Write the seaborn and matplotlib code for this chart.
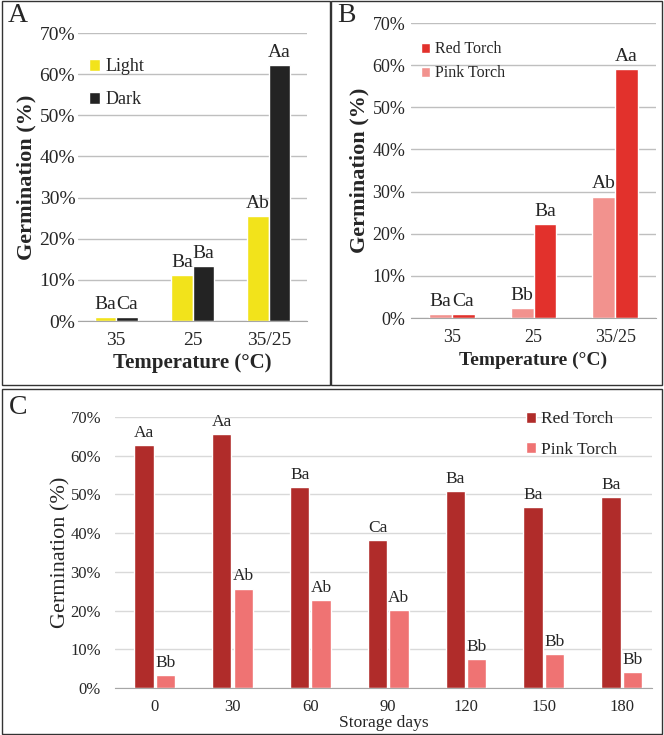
import matplotlib
matplotlib.use("Agg")
import matplotlib.pyplot as plt
from matplotlib.patches import Rectangle
from matplotlib.ticker import PercentFormatter, FixedLocator
import seaborn as sns
import pandas as pd

# Panel A: light vs dark at temperature
temps = ["35", "25", "35/25"]
light = [1.0, 11.2, 25.5]
dark = [1.0, 13.4, 62.2]
light_letters = ["Ba", "Ba", "Ab"]
dark_letters = ["Ca", "Ba", "Aa"]

# Panel B: cultivars at temperature
pink_temp = [1.0, 2.3, 28.8]
red_temp = [1.0, 22.3, 59.0]
pink_temp_letters = ["Ba", "Bb", "Ab"]
red_temp_letters = ["Ca", "Ba", "Aa"]

# Panel C: storage days
days = ["0", "30", "60", "90", "120", "150", "180"]
red_days = [62.8, 65.5, 52.0, 38.1, 50.8, 46.7, 49.4]
pink_days = [3.4, 25.7, 22.8, 20.1, 7.5, 8.7, 4.1]
red_days_letters = ["Aa", "Aa", "Ba", "Ca", "Ba", "Ba", "Ba"]
pink_days_letters = ["Bb", "Ab", "Ab", "Ab", "Bb", "Bb", "Bb"]

sns.set_style("white")
plt.rcParams["font.family"] = ["Liberation Serif", "DejaVu Serif"]

fig = plt.figure(figsize=(6.64, 7.35), dpi=100)
W, H = 664, 735


def px_axes(x0, y0, x1, y1):
    return fig.add_axes([x0 / W, 1 - y1 / H, (x1 - x0) / W, (y1 - y0) / H])


def long_df(cats, a, b, na, nb):
    return pd.DataFrame({
        "cat": cats + cats,
        "val": a + b,
        "grp": [na] * len(cats) + [nb] * len(cats),
    })


def style_axes(ax, n, fs, ypad, grid_col, boundary_ticks):
    ax.set_ylim(0, 70)
    ax.yaxis.set_major_locator(FixedLocator(range(0, 71, 10)))
    ax.yaxis.set_major_formatter(PercentFormatter(decimals=0))
    ax.grid(axis="y", color=grid_col, lw=1)
    ax.set_axisbelow(True)
    for s in ["top", "right", "left"]:
        ax.spines[s].set_visible(False)
    ax.spines["bottom"].set_color("#A6A6A6")
    ax.tick_params(axis="y", length=0, labelsize=fs, pad=ypad)
    ax.tick_params(axis="x", which="major", length=0, labelsize=fs, pad=8)
    if boundary_ticks:
        ax.xaxis.set_minor_locator(FixedLocator([i - 0.5 for i in range(n + 1)]))
        ax.tick_params(axis="x", which="minor", length=5, color="#A6A6A6")


def add_letters(ax, labels_list, fs):
    for cont, labs in zip(ax.containers, labels_list):
        ax.bar_label(cont, labels=labs, padding=3, fontsize=fs)


# ---- Panel A
axA = px_axes(78, 33, 307, 321)
dfA = long_df(temps, light, dark, "Light", "Dark")
sns.barplot(data=dfA, x="cat", y="val", hue="grp", ax=axA, width=0.56,
            palette=["#F2E31B", "#232323"], saturation=1, gap=0)
style_axes(axA, 3, 14, 2, "#BFBFBF", True)
add_letters(axA, [light_letters, dark_letters], 14)
axA.set_xlabel("Temperature (°C)", fontsize=15, fontweight="bold", labelpad=3)
axA.set_ylabel("Germination (%)", fontsize=16, fontweight="bold", labelpad=2)
axA.legend(loc="upper left", bbox_to_anchor=(0.0, 0.95), frameon=False,
           fontsize=13, handlelength=0.6, handleheight=0.6, handletextpad=0.3,
           labelspacing=0.9, borderaxespad=0.2)

# ---- Panel B
axB = px_axes(411, 23, 656, 318)
dfB = long_df(temps, pink_temp, red_temp, "Pink Torch", "Red Torch")
sns.barplot(data=dfB, x="cat", y="val", hue="grp", ax=axB, width=0.56,
            palette=["#F2928E", "#E2312C"], saturation=1, gap=0)
style_axes(axB, 3, 13, 4, "#BFBFBF", True)
add_letters(axB, [pink_temp_letters, red_temp_letters], 14)
axB.set_xlabel("Temperature (°C)", fontsize=14, fontweight="bold", labelpad=4)
axB.set_ylabel("Germination (%)", fontsize=16, fontweight="bold", labelpad=2)
hB, lB = axB.get_legend_handles_labels()
axB.legend(hB[::-1], lB[::-1], loc="upper left", bbox_to_anchor=(0.0, 0.97),
           frameon=False, fontsize=11.5, handlelength=0.6, handleheight=0.6,
           handletextpad=0.3, labelspacing=0.5, borderaxespad=0.2)

# ---- Panel C
axC = px_axes(115, 417, 652, 688)
dfC = long_df(days, red_days, pink_days, "Red Torch", "Pink Torch")
sns.barplot(data=dfC, x="cat", y="val", hue="grp", ax=axC, width=0.55,
            palette=["#B02C2A", "#EF7373"], saturation=1, gap=0.1)
style_axes(axC, 7, 12, 10, "#D9D9D9", False)
axC.set_xlim(-0.51, 6.39)
add_letters(axC, [red_days_letters, pink_days_letters], 12.5)
axC.set_xlabel("Storage days", fontsize=12.5, labelpad=0)
axC.set_ylabel("Germination (%)", fontsize=16, labelpad=0)
axC.legend(loc="upper right", bbox_to_anchor=(0.955, 1.06), frameon=False,
           fontsize=12.5, handlelength=0.6, handleheight=0.6, handletextpad=0.3,
           labelspacing=0.85, borderaxespad=0.2)

# panel frames and letters
for x0, y0, x1, y1 in [(2, 1, 330, 385), (331, 1, 662, 385), (2, 389, 662, 734)]:
    fig.patches.append(Rectangle((x0 / W, 1 - y1 / H), (x1 - x0) / W, (y1 - y0) / H,
                                 transform=fig.transFigure, fill=False,
                                 edgecolor="#333333", lw=1))
for letter, x, y in [("A", 8, 3), ("B", 337, 3), ("C", 9, 395)]:
    fig.text(x / W, 1 - y / H, letter, fontsize=20, ha="left", va="top")

fig.savefig("out.png", dpi=100)
